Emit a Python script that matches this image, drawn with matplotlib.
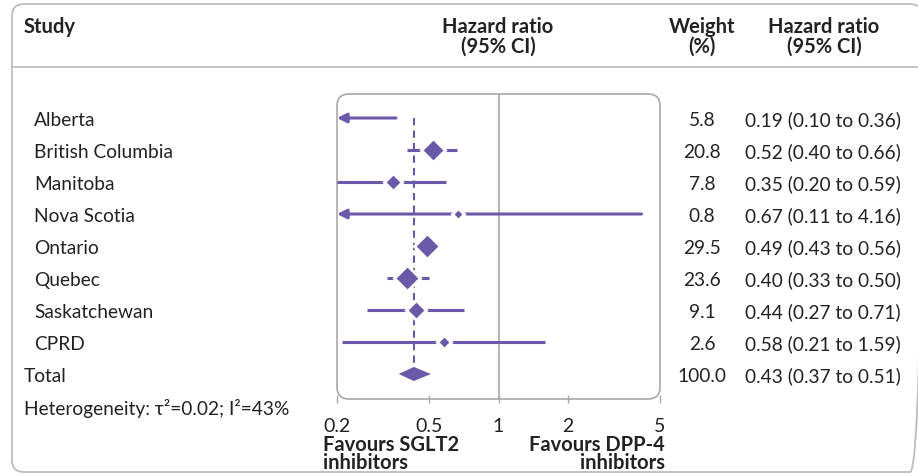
import matplotlib
matplotlib.use("Agg")
import matplotlib.pyplot as plt
from matplotlib.patches import FancyBboxPatch, Polygon

plt.rcParams["font.family"] = ["Lato", "DejaVu Sans"]

studies = ["Alberta", "British Columbia", "Manitoba", "Nova Scotia",
           "Ontario", "Quebec", "Saskatchewan", "CPRD"]
weights = [5.8, 20.8, 7.8, 0.8, 29.5, 23.6, 9.1, 2.6]
hr = [0.19, 0.52, 0.35, 0.67, 0.49, 0.40, 0.44, 0.58]
lo = [0.10, 0.40, 0.20, 0.11, 0.43, 0.33, 0.27, 0.21]
hi = [0.36, 0.66, 0.59, 4.16, 0.56, 0.50, 0.71, 1.59]
total_hr, total_lo, total_hi, total_w = 0.43, 0.37, 0.51, 100.0
heterogeneity = "Heterogeneity: τ²=0.02; I²=43%"
xticks = [0.2, 0.5, 1, 2, 5]
xticklabels = ["0.2", "0.5", "1", "2", "5"]

PURPLE = "#6a58a8"
GREY = "#a8a8a8"
TXT = "#222222"
W, H = 918, 477
ROW0, STEP = 119, 32

fig = plt.figure(figsize=(W / 100, H / 100), dpi=100)

# background layer in pixel coordinates (frames + text)
bg = fig.add_axes([0, 0, 1, 1])
bg.set_xlim(0, W)
bg.set_ylim(H, 0)
bg.axis("off")
bg.add_patch(FancyBboxPatch((12, 5), 910, 468, boxstyle="round,pad=0,rounding_size=12",
                            fc="none", ec="#bdbdbd", lw=1.3))
bg.plot([12, W], [68, 68], color="#bdbdbd", lw=1.3)
bg.add_patch(FancyBboxPatch((337, 95), 323, 305, boxstyle="round,pad=0,rounding_size=12",
                            fc="none", ec=GREY, lw=1.2))

hfont = dict(fontsize=14.5, fontweight="bold", color=TXT, va="center")
bg.text(24, 27, "Study", ha="left", **hfont)
bg.text(498, 27, "Hazard ratio", ha="center", **hfont)
bg.text(498, 47, "(95% CI)", ha="center", **hfont)
bg.text(702, 27, "Weight", ha="center", **hfont)
bg.text(702, 47, "(%)", ha="center", **hfont)
bg.text(824, 27, "Hazard ratio", ha="center", **hfont)
bg.text(824, 47, "(95% CI)", ha="center", **hfont)

rfont = dict(fontsize=13.8, color=TXT, va="center")
dy = 1.5
for i, name in enumerate(studies):
    y = ROW0 + STEP * i + dy
    bg.text(34, y, name, ha="left", **rfont)
    bg.text(702, y, f"{weights[i]:.1f}", ha="center", **rfont)
    bg.text(745, y, f"{hr[i]:.2f} ({lo[i]:.2f} to {hi[i]:.2f})", ha="left", **rfont)
yt = ROW0 + STEP * len(studies) + dy
bg.text(24, yt, "Total", ha="left", **rfont)
bg.text(702, yt, f"{total_w:.1f}", ha="center", **rfont)
bg.text(745, yt, f"{total_hr:.2f} ({total_lo:.2f} to {total_hi:.2f})", ha="left", **rfont)
bg.text(24, yt + STEP, heterogeneity, ha="left", **rfont)

bfont = dict(fontsize=14.5, fontweight="bold", color=TXT, va="top", linespacing=0.85)
bg.text(323, 435, "Favours SGLT2\ninhibitors", ha="left", multialignment="left", **bfont)
bg.text(665, 435, "Favours DPP-4\ninhibitors", ha="right", multialignment="right", **bfont)

# forest plot axes
ax = fig.add_axes([337 / W, (H - 400) / H, 323 / W, 305 / H])
ax.patch.set_alpha(0)
ax.set_xscale("log")
ax.set_xlim(0.2, 5)
ax.set_ylim((400 - ROW0) / STEP, (95 - ROW0) / STEP)
for s in ax.spines.values():
    s.set_visible(False)
ax.set_yticks([])
ax.set_xticks(xticks)
ax.set_xticklabels(xticklabels)
ax.minorticks_off()
ax.tick_params(axis="x", direction="inout", length=6, width=1, color=GREY,
               labelsize=14, labelcolor=TXT, pad=10)

ax.axvline(1, color=GREY, lw=1.2, zorder=1)
n = len(studies)
ax.plot([total_hr, total_hr], [0, n], color=PURPLE, lw=1.5, dashes=(3.5, 2.5), zorder=2)

xmin = 0.2
for i in range(n):
    if lo[i] < xmin:
        ax.annotate("", xy=(xmin, i), xytext=(hi[i], i),
                    arrowprops=dict(arrowstyle="-|>", color=PURPLE, lw=2.2,
                                    mutation_scale=14, shrinkA=0, shrinkB=0),
                    zorder=3, annotation_clip=False)
    else:
        ax.plot([lo[i], hi[i]], [i, i], color=PURPLE, lw=2.2, zorder=3,
                solid_capstyle="butt")
    if hr[i] >= xmin:
        ms = 5 + 1.6 * weights[i] ** 0.5
        ax.plot(hr[i], i, marker="D", ms=ms, mfc=PURPLE, mec="white", mew=2.2,
                zorder=4)

h = 0.22
ax.add_patch(Polygon([(total_lo, n), (total_hr, n - h), (total_hi, n), (total_hr, n + h)],
                     closed=True, fc=PURPLE, ec="none", zorder=4))

fig.savefig("out.png", dpi=100)
